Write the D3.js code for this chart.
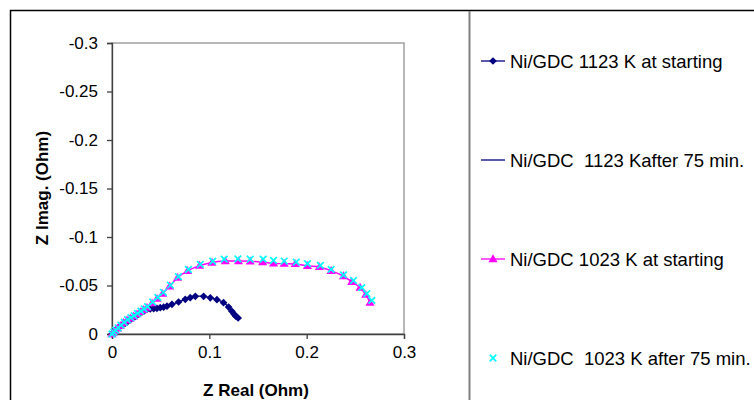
<!DOCTYPE html>
<html>
<head>
<meta charset="utf-8" />
<style>

body {
    margin: 0;
    background-color: #FFF;
}

#chart text {
    font-family: "Liberation Sans", Arial, sans-serif;
}

</style>
<title>Nyquist plot Ni/GDC</title>
</head>

<body>
<div id="chart"></div>

<script src="https://d3js.org/d3.v7.min.js"></script>
<script>

// tick values
var xTicks = [0, 0.1, 0.2, 0.3];
var yTicks = [0, -0.05, -0.1, -0.15, -0.2, -0.25, -0.3];

// series values: [Z real, Z imag]
var ni1123Start = [
    [0.000, -0.000], [0.0017, -0.0021], [0.0034, -0.0038], [0.0051, -0.0055],
    [0.0068, -0.0069], [0.0086, -0.0082], [0.011, -0.0098], [0.0137, -0.0113],
    [0.0162, -0.0131], [0.0188, -0.0148], [0.0214, -0.0165], [0.024, -0.0182],
    [0.0274, -0.0205], [0.0308, -0.0227], [0.0334, -0.0242], [0.0359, -0.0254],
    [0.0393, -0.0258], [0.0428, -0.0261], [0.0462, -0.0265], [0.0496, -0.0271],
    [0.053, -0.0277], [0.0565, -0.0287], [0.0616, -0.0306], [0.0684, -0.033],
    [0.0753, -0.0357], [0.0804, -0.0375], [0.0856, -0.0388], [0.0941, -0.0388],
    [0.101, -0.0373], [0.1078, -0.0354], [0.1146, -0.0323], [0.1198, -0.0278],
    [0.1232, -0.0234], [0.1256, -0.0203], [0.1272, -0.0183], [0.1296, -0.0165]
];

// no points visible in the plot for this series
var ni1123After = [];

var ni1023Start = [
    [0.000, -0.000], [0.0015, -0.0016], [0.0034, -0.0035], [0.0056, -0.0058],
    [0.0086, -0.0086], [0.012, -0.0115], [0.0154, -0.0141], [0.0188, -0.0162],
    [0.0222, -0.0182], [0.0256, -0.0204], [0.0291, -0.0227], [0.0325, -0.0249],
    [0.0359, -0.0271], [0.0411, -0.0318], [0.0462, -0.0364], [0.052, -0.0416],
    [0.0592, -0.0491], [0.0674, -0.0581], [0.0777, -0.0651], [0.09, -0.0705],
    [0.1027, -0.0737], [0.1164, -0.0752], [0.13, -0.0752], [0.142, -0.0750],
    [0.1547, -0.0740], [0.166, -0.0727], [0.1769, -0.0725], [0.1882, -0.0722],
    [0.2008, -0.0703], [0.2131, -0.0691], [0.2251, -0.0651], [0.2378, -0.0597],
    [0.2463, -0.0538], [0.2549, -0.0478], [0.2607, -0.0405], [0.2651, -0.0323]
];

var ni1023After = [
    [0.000, -0.000], [0.0018, -0.0020], [0.0038, -0.0040], [0.0062, -0.0064],
    [0.0092, -0.0092], [0.0126, -0.0121], [0.016, -0.0147], [0.0194, -0.0168],
    [0.0228, -0.0190], [0.0262, -0.0212], [0.0297, -0.0236], [0.0331, -0.0258],
    [0.0365, -0.0282], [0.0418, -0.0330], [0.047, -0.0377], [0.0528, -0.0430],
    [0.0600, -0.0503], [0.0682, -0.0592], [0.0785, -0.0665], [0.0907, -0.0718],
    [0.1035, -0.0750], [0.1153, -0.0772], [0.1293, -0.0775], [0.142, -0.0771],
    [0.1553, -0.0772], [0.1659, -0.0759], [0.1769, -0.0752], [0.1893, -0.0742],
    [0.2008, -0.0725], [0.2141, -0.0707], [0.2251, -0.0666], [0.2378, -0.0609],
    [0.2481, -0.0552], [0.2566, -0.0478], [0.2618, -0.0416], [0.2669, -0.0347]
];

var seriesNames = [
    "Ni/GDC 1123 K at starting",
    "Ni/GDC  1123 Kafter 75 min.",
    "Ni/GDC 1023 K at starting",
    "Ni/GDC  1023 K after 75 min."
];

var series = [
    {name: seriesNames[0], values: ni1123Start, color: "#000080", line: true, marker: "diamond"},
    {name: seriesNames[1], values: ni1123After, color: "#000080", line: true, marker: null},
    {name: seriesNames[2], values: ni1023Start, color: "#FF00FF", line: true, marker: "triangle"},
    {name: seriesNames[3], values: ni1023After, color: "#00FFFF", line: false, marker: "cross"}
];

var width = 754, height = 400;
var plot = {left: 112, right: 404, top: 43, bottom: 334};

var svg = d3.select("#chart").append("svg")
        .attr("width", width)
        .attr("height", height);

// outer chart frame
svg.append("rect")
    .attr("x", 10.5).attr("y", 10.5)
    .attr("width", width).attr("height", height)
    .attr("fill", "#FFF")
    .attr("stroke", "#000")
    .attr("stroke-width", 1.5);

// legend border (left edge only visible)
svg.append("line")
    .attr("x1", 469.5).attr("x2", 469.5)
    .attr("y1", 11).attr("y2", height)
    .attr("stroke", "#808080")
    .attr("stroke-width", 2);

var x = d3.scaleLinear().domain([0, 0.3]).range([plot.left, plot.right]);
var y = d3.scaleLinear().domain([0, -0.3]).range([plot.bottom, plot.top]);

// plot area border
svg.append("rect")
    .attr("x", plot.left).attr("y", plot.top)
    .attr("width", plot.right - plot.left)
    .attr("height", plot.bottom - plot.top)
    .attr("fill", "none")
    .attr("stroke", "#A0A0A0")
    .attr("stroke-width", 1.5);

var fmt = function(d) { return String(d); };

var xAxis = svg.append("g")
    .attr("transform", "translate(0," + plot.bottom + ")")
    .call(d3.axisBottom(x).tickValues(xTicks).tickFormat(fmt).tickSize(5).tickPadding(7));

var yAxis = svg.append("g")
    .attr("transform", "translate(" + plot.left + ",0)")
    .call(d3.axisLeft(y).tickValues(yTicks).tickFormat(fmt).tickSize(5).tickPadding(9));

[xAxis, yAxis].forEach(function(a) {
    a.select(".domain").attr("stroke", "#404040").attr("stroke-width", 1.3);
    a.selectAll(".tick line").attr("stroke", "#404040").attr("stroke-width", 1.3);
    a.selectAll(".tick text")
        .attr("fill", "#000")
        .style("font-size", "17px")
        .style("font-family", "'Liberation Sans', Arial, sans-serif");
});

// axis titles
svg.append("text")
    .attr("x", 256).attr("y", 396)
    .attr("text-anchor", "middle")
    .style("font-size", "17px")
    .style("font-weight", "bold")
    .text("Z Real (Ohm)");

svg.append("text")
    .attr("transform", "translate(48,188) rotate(-90)")
    .attr("text-anchor", "middle")
    .style("font-size", "17px")
    .style("font-weight", "bold")
    .text("Z Imag. (Ohm)");

function drawMarker(g, type, color, cx, cy) {
    if (type === "diamond") {
        g.append("path")
            .attr("d", d3.symbol().type(d3.symbolDiamond2).size(38)())
            .attr("transform", "translate(" + cx + "," + cy + ")")
            .attr("fill", color);
    } else if (type === "triangle") {
        g.append("path")
            .attr("d", d3.symbol().type(d3.symbolTriangle).size(36)())
            .attr("transform", "translate(" + cx + "," + (cy + 0.5) + ")")
            .attr("fill", color);
    } else if (type === "cross") {
        g.append("path")
            .attr("d", d3.symbol().type(d3.symbolX).size(30)())
            .attr("transform", "translate(" + cx + "," + cy + ")")
            .attr("fill", "none")
            .attr("stroke", color)
            .attr("stroke-width", 1.7);
    }
}

var line = d3.line()
    .x(function(d) { return x(d[0]); })
    .y(function(d) { return y(d[1]); })
    .curve(d3.curveCatmullRom);

var plotG = svg.append("g");

series.forEach(function(s) {
    if (s.line && s.values.length) {
        plotG.append("path")
            .datum(s.values)
            .attr("d", line)
            .attr("fill", "none")
            .attr("stroke", s.color)
            .attr("stroke-width", 1.4);
    }
    if (s.marker) {
        s.values.forEach(function(d) {
            drawMarker(plotG, s.marker, s.color, x(d[0]), y(d[1]));
        });
    }
});

// legend
var legendY = [61, 160, 259, 358];
var legend = svg.append("g");

series.forEach(function(s, i) {
    var ly = legendY[i];
    if (s.line) {
        legend.append("line")
            .attr("x1", 481).attr("x2", 505)
            .attr("y1", ly).attr("y2", ly)
            .attr("stroke", s.color)
            .attr("stroke-width", 1.3);
    }
    if (s.marker) {
        drawMarker(legend, s.marker, s.color, 493, ly);
    }
    legend.append("text")
        .attr("x", 510).attr("y", ly + 6.5)
        .style("font-size", "18.5px")
        .attr("xml:space", "preserve")
        .style("white-space", "pre")
        .text(s.name);
});

</script>
</body>
</html>
